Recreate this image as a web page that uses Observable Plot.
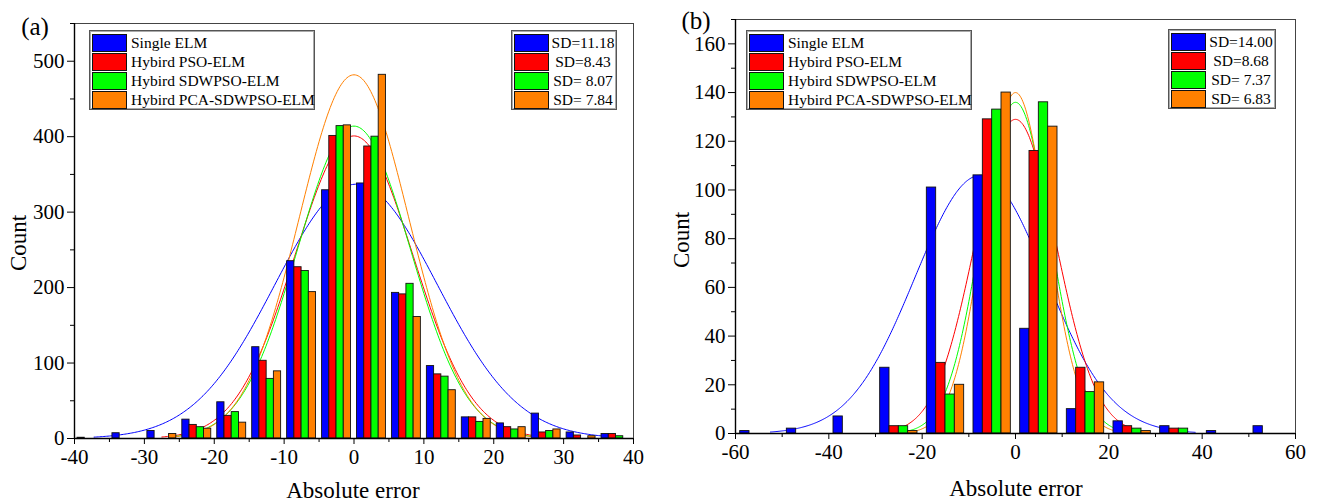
<!DOCTYPE html>
<html><head><meta charset="utf-8">
<script src="https://cdn.jsdelivr.net/npm/d3@7"></script>
<script src="https://cdn.jsdelivr.net/npm/@observablehq/plot@0.6"></script>
<style>
body{margin:0;background:#fff;}
#wrap{position:relative;width:1317px;height:502px;font-family:"Liberation Serif","Times New Roman",serif;overflow:hidden;background:#fff}
.svgbox{position:absolute;top:0}
.lbl{position:absolute;white-space:nowrap;color:#000;line-height:1}
.legend{position:absolute;border:1px solid #555;background:#fff;box-shadow:inset 0 0 0 1px #aaa;box-sizing:border-box}
.row{position:absolute;left:2px;height:17px;width:100%}
.sw{position:absolute;left:0;top:0;width:33px;height:16px;border:1px solid #111;box-sizing:content-box}
.tx{position:absolute;top:0;font-size:15.5px;line-height:18px;white-space:nowrap}
</style></head>
<body><div id="wrap"></div>
<script>
// ---- series ----
const seriesNames = ["Single ELM","Hybird PSO-ELM","Hybird SDWPSO-ELM","Hybird PCA-SDWPSO-ELM"];
const seriesColors = ["#0000ff","#ff0000","#00ff00","#ff8000"];

// ---- panel (a) ----
const binsA   = [-37.5,-32.5,-27.5,-22.5,-17.5,-12.5,-7.5,-2.5,2.5,7.5,12.5,17.5,22.5,27.5,32.5,37.5];
const singleA = [1,7,10,25,48,121,235,329,338,193,96,28,20,33,8,6];
const psoA    = [0,0,0,18,30,103,227,401,387,191,85,28,15,8,4,6];
const sdwpsoA = [0,0,0,15,35,79,222,414,400,205,82,22,12,10,0,3];
const pcaA    = [0,0,6,13,21,89,194,415,482,161,64,26,15,12,3,0];
const sdLabelsA = ["SD=11.18","SD=8.43","SD= 8.07","SD= 7.84"];
// fitted normal curves: mean, sd, peak, range
const fitMeanA = [0.3,0,0,0];
const fitSDA   = [11.6,8.43,8.07,7.84];
const fitPeakA = [337,401,414,482];
const fitFromA = [-37.2,-27.5,-26,-26];
const fitToA   = [38,27,26,26];
const xTicksA = [-40,-30,-20,-10,0,10,20,30,40];
const yTicksA = [0,100,200,300,400,500];

// ---- panel (b) ----
const binsB   = [-55,-45,-35,-25,-15,-5,5,15,25,35,45,55];
const singleB = [1,2,7,27,101,106,43,10,5,3,1,3];
const psoB    = [0,0,0,3,29,129,116,27,3,2,0,0];
const sdwpsoB = [0,0,0,3,16,133,136,17,2,2,0,0];
const pcaB    = [0,0,0,1,20,140,126,21,1,0,0,0];
const sdLabelsB = ["SD=14.00","SD=8.68","SD= 7.37","SD= 6.83"];
const fitMeanB = [-7.5,0,0,0];
const fitSDB   = [14,8.68,7.37,6.83];
const fitPeakB = [106,129,136,140];
const fitFromB = [-52.5,-28,-25,-23];
const fitToB   = [38.5,26,24,24];
const xTicksB = [-60,-40,-20,0,20,40,60];
const yTicksB = [0,20,40,60,80,100,120,140,160];

function bars(bins, cols, barW){
  const out=[];
  bins.forEach((c,i)=>{
    cols.forEach((arr,s)=>{
      if(arr[i]>0){
        const x1=c-2*barW+s*barW;
        out.push({x1, x2:x1+barW, y:arr[i], name:seriesNames[s]});
      }
    });
  });
  return out;
}
function curves(mean, sd, peak, from, to){
  const out=[];
  for(let s=0;s<4;s++){
    for(let x=from[s]; x<=to[s]+1e-9; x+=0.2){
      out.push({x, y:peak[s]*Math.exp(-((x-mean[s])**2)/(2*sd[s]*sd[s])), name:seriesNames[s]});
    }
  }
  return out;
}
function range(a,b,st){const r=[];for(let v=a;v<=b+1e-9;v+=st)r.push(v);return r;}

function panel(opt){
  return Plot.plot({
    width:opt.width, height:502,
    marginLeft:opt.ml, marginRight:opt.mr, marginTop:opt.mt, marginBottom:opt.mb,
    x:{domain:opt.xd}, y:{domain:opt.yd},
    color:{domain:seriesNames, range:seriesColors},
    style:{fontFamily:'"Liberation Serif","Times New Roman",serif', fontSize:"21px", background:"transparent", overflow:"visible", color:"#000"},
    marks:[
      Plot.line(opt.curves,{x:"x",y:"y",stroke:"name",z:"name",strokeWidth:1}),
      Plot.rectY(opt.bars,{x1:"x1",x2:"x2",y:"y",fill:"name",stroke:"#111",strokeWidth:0.9}),
      Plot.frame({stroke:"#444",strokeWidth:1}),
      Plot.ruleY([0],{stroke:"#000",strokeWidth:1.4}),
      Plot.ruleX([opt.xd[0]],{stroke:"#000",strokeWidth:1.4}),
      Plot.axisX({ticks:opt.xt, tickSize:6, tickPadding:5, label:null, tickFormat:d=>String(d), fontSize:21, fontFamily:'"Liberation Serif",serif'}),
      Plot.axisX({ticks:opt.xm, tickSize:4, label:null, tickFormat:()=>""}),
      Plot.axisY({ticks:opt.yt, tickSize:7, tickPadding:3, label:null, tickFormat:d=>String(d), fontSize:21, fontFamily:'"Liberation Serif",serif'}),
      Plot.axisY({ticks:opt.ym, tickSize:4, label:null, tickFormat:()=>""})
    ]
  });
}

const wrap=document.getElementById("wrap");
function place(el,left){const d=document.createElement("div");d.className="svgbox";d.style.left=left+"px";d.appendChild(el);wrap.appendChild(d);}

place(panel({width:660, ml:74, mr:27, mt:23, mb:64, xd:[-40,40], yd:[0,550],
  curves:curves(fitMeanA,fitSDA,fitPeakA,fitFromA,fitToA),
  bars:bars(binsA,[singleA,psoA,sdwpsoA,pcaA],1.035),
  xt:xTicksA, xm:range(-35,35,10), yt:yTicksA, ym:range(50,550,100)}),0);

place(panel({width:657, ml:75, mr:22, mt:19, mb:69, xd:[-60,60], yd:[0,170],
  curves:curves(fitMeanB,fitSDB,fitPeakB,fitFromB,fitToB),
  bars:bars(binsB,[singleB,psoB,sdwpsoB,pcaB],2.0),
  xt:xTicksB, xm:range(-50,50,20), yt:yTicksB, ym:range(10,170,20)}),660);

function label(text,x,y,size,rot){
  const d=document.createElement("div");d.className="lbl";d.textContent=text;
  d.style.fontSize=size+"px";d.style.left=x+"px";d.style.top=y+"px";
  d.style.transform="translate(-50%,-50%)"+(rot?" rotate(-90deg)":"");
  wrap.appendChild(d);
}
label("(a)",35,26,25);
label("(b)",696,20,25);
label("Count",18,243,23,true);
label("Count",681,240,23,true);
label("Absolute error",353,490,23);
label("Absolute error",1016,488,23);

function legend(left,top,w,texts,textLeft,center){
  const box=document.createElement("div");box.className="legend";
  box.style.left=left+"px";box.style.top=top+"px";box.style.width=w+"px";box.style.height="80px";
  texts.forEach((t,i)=>{
    const r=document.createElement("div");r.className="row";r.style.top=(2.5+i*19.2)+"px";
    const s=document.createElement("div");s.className="sw";s.style.background=seriesColors[i];r.appendChild(s);
    const tx=document.createElement("div");tx.className="tx";tx.textContent=t;
    if(center){tx.style.left=textLeft+"px";tx.style.width=(w-textLeft-4)+"px";tx.style.textAlign="center";tx.style.fontSize="15.5px";}
    else tx.style.left=textLeft+"px";
    r.appendChild(tx);box.appendChild(r);
  });
  wrap.appendChild(box);
}
legend(89,30,226,seriesNames,39,false);
legend(511,30,106,sdLabelsA,36,true);
legend(746,30,226,seriesNames,39,false);
legend(1168,29,108,sdLabelsB,36,true);
</script></body></html>
